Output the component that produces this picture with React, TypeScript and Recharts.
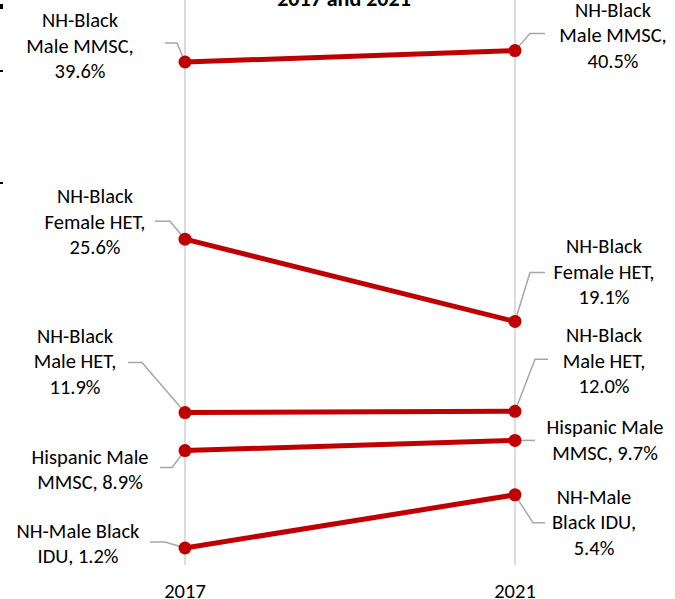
import { LineChart, Line, XAxis, YAxis, ReferenceLine } from 'recharts';

// values in % of diagnoses
const years = ['2017', '2021'];
const blackMaleMmsc = [39.6, 40.5];
const blackFemaleHet = [25.6, 19.1];
const blackMaleHet = [11.9, 12.0];
const hispanicMaleMmsc = [8.9, 9.7];
const blackMaleIdu = [1.2, 5.4];

const series = [
  { key: 'mmsc', values: blackMaleMmsc },
  { key: 'fhet', values: blackFemaleHet },
  { key: 'mhet', values: blackMaleHet },
  { key: 'hisp', values: hispanicMaleMmsc },
  { key: 'idu', values: blackMaleIdu },
];

const data = years.map((year, i) => {
  const row: Record<string, string | number> = { year };
  series.forEach(s => { row[s.key] = s.values[i]; });
  return row;
});

const RED = '#C00000';
const FONT = 'Carlito, Calibri, Lato, sans-serif';

type Spot = { lines: string[]; dx: number; dy: number; leader: number[][] };

// label text split + placement relative to each point ({v} = value)
const labelLayout: Record<string, Spot[]> = {
  mmsc: [
    { lines: ['NH-Black', 'Male MMSC,', '{v}'], dx: -105, dy: -42, leader: [[-20, -19], [-8, -19], [0, 0]] },
    { lines: ['NH-Black', 'Male MMSC,', '{v}'], dx: 98, dy: -41, leader: [[0, 0], [15, -17], [30, -17]] },
  ],
  fhet: [
    { lines: ['NH-Black', 'Female HET,', '{v}'], dx: -90, dy: -43, leader: [[-30, -18], [-15, -18], [0, 0]] },
    { lines: ['NH-Black', 'Female HET,', '{v}'], dx: 89, dy: -75, leader: [[0, 0], [15, -49], [30, -49]] },
  ],
  mhet: [
    { lines: ['NH-Black', 'Male HET,', '{v}'], dx: -110, dy: -77, leader: [[-57, -50], [-43, -50], [0, 0]] },
    { lines: ['NH-Black', 'Male HET,', '{v}'], dx: 89, dy: -76, leader: [[0, 0], [20, -52], [33, -52]] },
  ],
  hisp: [
    { lines: ['Hispanic Male', 'MMSC, {v}'], dx: -95, dy: 6, leader: [[-25, 17], [-13, 17], [0, 0]] },
    { lines: ['Hispanic Male', 'MMSC, {v}'], dx: 90, dy: -13, leader: [[0, 0], [20, 0]] },
  ],
  idu: [
    { lines: ['NH-Male Black', 'IDU, {v}'], dx: -107, dy: -17, leader: [[-35, -6], [-20, -6], [0, 0]] },
    { lines: ['NH-Male', 'Black IDU,', '{v}'], dx: 79, dy: 2, leader: [[0, 0], [18, 28], [30, 28]] },
  ],
};

function PointMark(props: any) {
  const { cx, cy, index, value, spots } = props;
  if (cx == null || cy == null) return <g />;
  const spot: Spot = spots[index];
  const txt = `${Number(value).toFixed(1)}%`;
  const pts = spot.leader.map(p => `${cx + p[0]},${cy + p[1]}`).join(' ');
  return (
    <g>
      <polyline points={pts} fill="none" stroke="#A6A6A6" strokeWidth={1.5} />
      <circle cx={cx} cy={cy} r={6.5} fill={RED} />
      <text x={cx + spot.dx} y={cy + spot.dy} textAnchor="middle" fontSize={20.5} fontFamily={FONT} fill="#000">
        {spot.lines.map((l, i) => (
          <tspan key={i} x={cx + spot.dx} dy={i === 0 ? 7 : 25.5}>{l.replace('{v}', txt)}</tspan>
        ))}
      </text>
    </g>
  );
}

function YearTick(props: any) {
  const { x, y, payload } = props;
  return (
    <text x={x} y={y + 11} textAnchor="middle" fontSize={20.5} fontFamily={FONT} fill="#000">
      {payload.value}
    </text>
  );
}

export default function App() {
  return (
    <div style={{ position: 'absolute', left: 0, top: 0, width: 675, height: 599, background: '#fff', overflow: 'hidden' }}>
      <div style={{ position: 'absolute', left: 0, width: 688, top: -15, textAlign: 'center', fontFamily: FONT, fontWeight: 700, fontSize: 22, color: '#000' }}>
        2017 and 2021
      </div>
      <div style={{ position: 'absolute', left: 0, top: 4, width: 3, height: 5, background: '#000' }} />
      <div style={{ position: 'absolute', left: 0, top: 70, width: 3, height: 2, background: '#000' }} />
      <div style={{ position: 'absolute', left: 0, top: 182, width: 3, height: 2, background: '#000' }} />
      <LineChart width={675} height={599} data={data} margin={{ top: 0, right: 0, bottom: 0, left: 0 }}>
        <XAxis dataKey="year" padding={{ left: 185, right: 160 }} axisLine={false} tickLine={false} tick={<YearTick />} height={20} />
        <YAxis hide type="number" domain={[-1.25, 44.5]} />
        {years.map(yr => (
          <ReferenceLine key={yr} segment={[{ x: yr, y: -0.15 }, { x: yr, y: 44.5 }]} stroke="#D0D0D0" strokeWidth={1.5} />
        ))}
        {series.map(s => (
          <Line
            key={s.key}
            dataKey={s.key}
            stroke={RED}
            strokeWidth={5}
            isAnimationActive={false}
            activeDot={false}
            dot={(p: any) => <PointMark key={`${s.key}-${p.index}`} {...p} spots={labelLayout[s.key]} />}
          />
        ))}
      </LineChart>
    </div>
  );
}
